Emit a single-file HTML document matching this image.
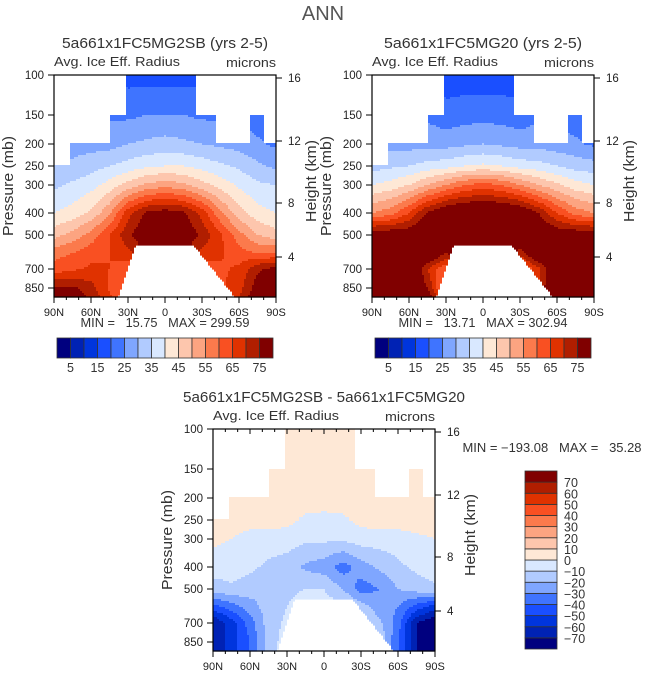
<!DOCTYPE html>
<html><head><meta charset="utf-8"><style>
html,body{margin:0;padding:0;background:#fff;}
svg{display:block;font-family:"Liberation Sans",sans-serif;}
text{white-space:pre;}
</style></head><body>
<svg id="root" width="646" height="676" viewBox="0 0 646 676" xmlns="http://www.w3.org/2000/svg">
<text x="323" y="20" font-size="20" fill="#555" text-anchor="middle">ANN</text>
</svg>
<script>
// ---- data ----
const latLabels = ["90N","60N","30N","0","30S","60S","90S"];
const pressureTicks = [100,150,200,250,300,400,500,700,850];
const heightTicks = [16,12,8,4];
const fieldLats = [90,75,60,45,30,15,0,-15,-30,-45,-60,-75,-90];
const fieldLevels = [100,150,200,250,300,400,500,600,700,850,1000];
const levels1 = [5,10,15,20,25,30,35,40,45,50,55,60,65,70,75];
const levelsDiff = [-70,-60,-50,-40,-30,-20,-10,0,10,20,30,40,50,60,70];
const cbLabels1 = [5,15,25,35,45,55,65,75];
const cbLabelsDiff = [70,60,50,40,30,20,10,0,-10,-20,-30,-40,-50,-60,-70];
const field1 = [
[20,20,20,20,18,18,18,18,18,20,20,20,20],
[24,24,24,24,24,25,25,25,24,24,24,22,22],
[27,28,28,28,30,31,32,31,30,29,28,26,24],
[30,31,33,35,37,39,40,40,38,36,34,31,29],
[34,36,38,42,47,51,53,51,47,43,39,36,35],
[40,42,46,54,68,76,78,76,68,56,47,42,40],
[48,52,57,65,74,80,82,80,74,66,57,50,47],
[58,60,63,65,68,76,78,76,68,66,62,60,60],
[62,64,66,65,62,60,60,60,62,64,66,74,77],
[76,76,72,64,60,60,60,60,60,64,68,78,78],
[78,78,74,66,60,60,60,60,60,64,70,80,80]];
const field2 = [
[20,20,20,20,17,17,17,17,17,20,20,20,20],
[24,24,24,24,22,23,23,23,22,24,24,22,22],
[28,28,28,28,28,29,30,29,28,28,27,26,24],
[33,34,35,37,38,40,41,40,38,37,35,33,32],
[40,42,45,50,55,60,62,60,55,50,46,42,40],
[55,58,65,76,82,84,85,84,82,75,65,58,55],
[80,80,80,82,85,85,85,85,85,82,80,80,80],
[85,85,85,85,75,85,85,85,72,85,85,85,85],
[85,85,85,70,60,85,85,85,58,68,85,85,85],
[85,85,85,75,55,85,85,85,55,70,85,85,85],
[85,85,85,80,60,85,85,85,60,75,85,85,85]];
const fieldDiff = [
[5,5,5,5,5,5,5,5,5,5,5,5,5],
[5,5,5,5,5,5,5,5,5,5,5,5,5],
[5,5,5,5,5,5,5,5,5,5,5,5,5],
[5,5,5,5,3,-2,-3,-2,3,5,5,5,5],
[2,0,-5,-5,-5,-8,-8,-8,-5,-5,-5,-2,0],
[-5,-5,-8,-12,-15,-22,-25,-35,-25,-18,-12,-8,-5],
[-15,-12,-15,-18,-12,-10,-10,-20,-35,-30,-20,-15,-12],
[-45,-35,-25,-15,-10,-5,-5,-5,-15,-25,-30,-45,-55],
[-70,-55,-35,-15,-8,-5,-5,-5,-8,-18,-35,-70,-80],
[-70,-55,-40,-15,-5,-5,-5,-5,-5,-10,-40,-70,-80],
[-70,-55,-40,-15,-5,-5,-5,-5,-5,-10,-40,-70,-80]];
const colors = ["#00007f","#0022b4","#0035dd","#1a4fff","#3f74ff","#7fa6ff","#b1cbff","#d9e8ff",
"#fee8d6","#fdc6ad","#fca481","#fb7a4c","#f95022","#e03200","#b01e00","#800000"];

// ---- axis helpers ----
const H = 222, W = 222;
const pPix = [[100,0],[150,40],[200,69],[250,91],[300,110],[400,138],[500,160],[600,178],[700,194],[850,213],[1000,222]];
function yOfP(p){for(let i=0;i<pPix.length-1;i++){const a=pPix[i],b=pPix[i+1];if(p<=b[0]){const t=(Math.log(p)-Math.log(a[0]))/(Math.log(b[0])-Math.log(a[0]));return a[1]+t*(b[1]-a[1]);}}return H;}
function xOfLat(lat){return (90-lat)/180*W;}
const NS="http://www.w3.org/2000/svg";
const root=document.getElementById('root');
function mk(tag,attrs,parent){const e=document.createElementNS(NS,tag);for(const k in attrs)e.setAttribute(k,attrs[k]);(parent||root).appendChild(e);return e;}
function txt(x,y,s,size,anchor,parent,fill,len){const a={x:x,y:y,'font-size':size,'text-anchor':anchor||'middle',fill:fill||'#222'};if(len){a.textLength=len;a.lengthAdjust='spacingAndGlyphs';}const t=mk('text',a,parent);t.textContent=s;return t;}
function binOf(v,lev){let k=0;while(k<lev.length&&v>=lev[k])k++;return k;}
const segs=[[0,13,250],[13,45,200],[45,59,150],[59,115,100],[115,132,150],[132,159,200],[159,171,150],[171,181,200]];
function topP(deg){for(const s of segs)if(deg>=s[0]&&deg<s[1])return s[2];return 200;}
function ground(deg,y){
  const gy=171;
  if(y<gy)return false;
  const t=(y-gy)/(H-gy);
  const lx=66+(52-66)*t, rx=114+(147-114)*t;
  return deg>=lx&&deg<=rx;
}
function sample(field,lat,y){
  let ci=(90-lat)/15; ci=Math.max(0,Math.min(11.999,ci)); const c0=Math.floor(ci),cf=ci-c0;
  let r0=0; const ry=fieldLevels.map(yOfP);
  while(r0<ry.length-2&&y>ry[r0+1])r0++;
  const rf=Math.max(0,Math.min(1,(y-ry[r0])/(ry[r0+1]-ry[r0])));
  const a=field[r0][c0]*(1-cf)+field[r0][c0+1]*cf;
  const b=field[r0+1][c0]*(1-cf)+field[r0+1][c0+1]*cf;
  return a*(1-rf)+b*rf;
}
function drawField(g,field,lev){
  const step=2;
  for(let y=0;y<H;y+=step){
    let runStart=null,runCol=null;
    const flush=(xe)=>{if(runCol){const r=mk('rect',{x:runStart,y:y,width:xe-runStart,height:step+0.6,fill:runCol},g);
      
      }};
    for(let x=0;x<=W;x+=step){
      let col=null;
      if(x<W){const deg=(x+1)/W*180;const lat=90-deg;const p=topP(deg);
        if(y+1>=yOfP(p)&&!ground(deg,y+1)){col=colors[binOf(sample(field,lat,y+1),lev)];}}
      if(col!==runCol){flush(x);runStart=x;runCol=col;}
    }
  }
}
function panel(ox,oy,title,titleLen,field,lev,name,topMinor){
  const g=mk('g',{transform:`translate(${ox},${oy})`});
  
  
  const fg=mk('g',{},g);
  
  
  drawField(fg,field,lev);
  const fr=mk('rect',{x:0,y:0,width:W,height:H,fill:'none',stroke:'#000','stroke-width':1.2},g);
  
  
  const t=txt(W/2,-27,title,15,'middle',g,'#333',titleLen);
  
  
  const l=txt(0,-9,'Avg. Ice Eff. Radius',13,'start',g,'#333',126);
  
  
  const u=txt(W,-8,'microns',13,'end',g,'#333',50);
  
  
  pressureTicks.forEach(p=>{const y=yOfP(p);mk('line',{x1:-6,x2:0,y1:y,y2:y,stroke:'#000'},g);
    const tt=txt(-10,y+4,String(p),11.5,'end',g);
    
    });
  const hp=[3,66,128,182];
  heightTicks.forEach((h,i)=>{const y=hp[i];mk('line',{x1:W,x2:W+6,y1:y,y2:y,stroke:'#000'},g);
    const tt=txt(W+12,y+4,String(h),11.5,'start',g);
    
    });
  latLabels.forEach((s,i)=>{const x=xOfLat(90-30*i);mk('line',{x1:x,x2:x,y1:H,y2:H+6,stroke:'#000'},g);
    const tt=txt(x,H+19,s,11,'middle',g);
    
    });
  for(let d=10;d<180;d+=10){if(d%30){const x=d/180*W;mk('line',{x1:x,x2:x,y1:H,y2:H+3,stroke:'#000'},g);
    if(topMinor)mk('line',{x1:x,x2:x,y1:0,y2:3,stroke:'#000'},g);}}
  if(topMinor){for(let d=30;d<180;d+=30){const x=d/180*W;mk('line',{x1:x,x2:x,y1:0,y2:5,stroke:'#000'},g);}}
  const yl=mk('text',{x:-41,y:H/2,'font-size':15,'text-anchor':'middle',fill:'#333',textLength:100,lengthAdjust:'spacingAndGlyphs',transform:`rotate(-90 -41 ${H/2})`},g);yl.textContent='Pressure (mb)';
  
  
  const yr=mk('text',{x:W+40,y:H/2-5,'font-size':15,'text-anchor':'middle',fill:'#333',textLength:82,lengthAdjust:'spacingAndGlyphs',transform:`rotate(-90 ${W+40} ${H/2-5})`},g);yr.textContent='Height (km)';
  
  
  return g;
}
function hbar(x,y,w,h,lev,labels,name){
  const g=mk('g',{});
  
  
  const bw=w/16;
  colors.forEach((c,i)=>{const r=mk('rect',{x:x+i*bw,y:y,width:bw,height:h,fill:c,stroke:'#333','stroke-width':0.8},g);
    
    });
  labels.forEach(v=>{const k=lev.indexOf(v);const tt=txt(x+(k+1)*bw,y+h+14,String(v),12.5,'middle',g,'#333');
    
    });
}
panel(54,75,'5a661x1FC5MG2SB (yrs 2-5)',206,field1,levels1,'panel-control',false);
txt(165,327,'MIN =   15.75   MAX = 299.59',13,'middle',root,'#333',169);
hbar(57,338,216,20,levels1,cbLabels1,'colorbar-control');
panel(372,75,'5a661x1FC5MG20 (yrs 2-5)',198,field2,levels1,'panel-test',false);
txt(483,327,'MIN =   13.71   MAX = 302.94',13,'middle',root,'#333',169);
hbar(375,338,216,20,levels1,cbLabels1,'colorbar-test');
panel(213,429,'5a661x1FC5MG2SB - 5a661x1FC5MG20',282,fieldDiff,levelsDiff,'panel-difference',true);
txt(552,452,'MIN = \u2212193.08   MAX =   35.28',12.5,'middle',root,'#333',179);
(function(){
  const g=mk('g',{});
  
  
  const x=525,y=471,w=32,h=178,bh=h/16;
  colors.forEach((c,i)=>{const r=mk('rect',{x:x,y:y+(15-i)*bh,width:w,height:bh,fill:c,stroke:'#333','stroke-width':0.8},g);
    
    });
  cbLabelsDiff.forEach(v=>{const k=levelsDiff.indexOf(v);const yy=y+(15-k)*bh;
    const tt=txt(x+w+7,yy+5,String(v).replace('-','\u2212'),12.5,'start',g,'#333');
    
    });
})();
</script>
</body></html>
